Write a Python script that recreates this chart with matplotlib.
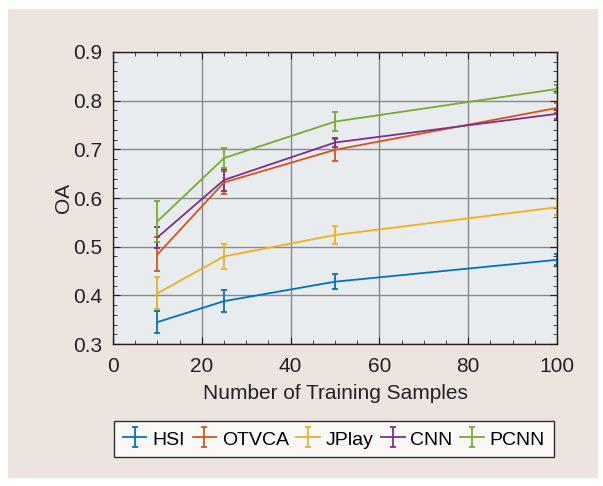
import matplotlib
matplotlib.use("Agg")
import matplotlib.pyplot as plt
from matplotlib.patches import Rectangle
from matplotlib.ticker import MultipleLocator

plt.rcParams['font.family'] = ['Liberation Sans', 'DejaVu Sans']

x = [10, 25, 50, 100]
series = ["HSI", "OTVCA", "JPlay", "CNN", "PCNN"]
hsi = [0.345, 0.388, 0.428, 0.473]
hsi_err = [0.022, 0.022, 0.015, 0.011]
otvca = [0.484, 0.632, 0.699, 0.785]
otvca_err = [0.035, 0.023, 0.023, 0.010]
jplay = [0.404, 0.480, 0.524, 0.581]
jplay_err = [0.033, 0.025, 0.018, 0.016]
cnn = [0.519, 0.637, 0.714, 0.773]
cnn_err = [0.021, 0.022, 0.010, 0.010]
pcnn = [0.552, 0.682, 0.757, 0.824]
pcnn_err = [0.042, 0.020, 0.020, 0.008]
values = [hsi, otvca, jplay, cnn, pcnn]
errors = [hsi_err, otvca_err, jplay_err, cnn_err, pcnn_err]
colors = ["#0072BD", "#D95319", "#EDB120", "#7E2F8E", "#77AC30"]

fig = plt.figure(figsize=(6.03, 4.86), dpi=100)
fig.patch.set_facecolor("white")
fig.patches.append(Rectangle((8/603, 8/486), 590/603, 469/486, transform=fig.transFigure,
                             facecolor="#EDE4E0", edgecolor="none", zorder=-10))

ax = fig.add_axes([113/603, 142/486, 444/603, 292/486])
ax.set_facecolor("#E8ECEE")
for v, e, c, name in zip(values, errors, colors, series):
    ax.errorbar(x, v, yerr=e, color=c, lw=1.3, elinewidth=1.3, capsize=2.5, capthick=1.3, label=name)

ax.set_xlim(0, 100)
ax.set_ylim(0.3, 0.9)
ax.xaxis.set_major_locator(MultipleLocator(20))
ax.xaxis.set_minor_locator(MultipleLocator(5))
ax.yaxis.set_major_locator(MultipleLocator(0.1))
ax.yaxis.set_minor_locator(MultipleLocator(0.02))
ax.set_yticklabels([f"{t:.1f}" for t in ax.get_yticks()])
ax.tick_params(which="both", direction="in", top=True, right=True, colors="#222222", labelsize=15)
ax.tick_params(which="major", length=5)
ax.tick_params(which="minor", length=3)
ax.tick_params(axis="x", which="major", pad=9)
ax.tick_params(axis="y", which="major", pad=8)
ax.grid(True, which="major", color="#8a8a8a", lw=1.0)
for s in ax.spines.values():
    s.set_color("#222222")
    s.set_linewidth(1.0)
ax.set_xlabel("Number of Training Samples", fontsize=15, color="#222222", labelpad=6)
ax.set_ylabel("OA", fontsize=15, color="#222222", labelpad=0)

leg = ax.legend(loc="center", bbox_to_anchor=(334/603, (486-439)/486), bbox_transform=fig.transFigure,
                ncol=5, fontsize=14, frameon=True, fancybox=False, edgecolor="black",
                handlelength=1.2, handleheight=1.0, handletextpad=0.3, columnspacing=0.4, borderpad=0.45)
leg.get_frame().set_linewidth(1.0)

fig.savefig("out.png", dpi=100)
